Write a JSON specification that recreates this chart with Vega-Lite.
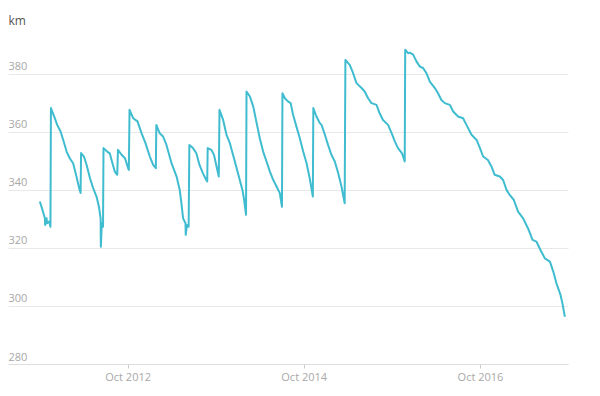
{
  "$schema": "https://vega.github.io/schema/vega-lite/v6.json",
  "autosize": "none",
  "width": 560,
  "height": 325,
  "padding": {"left": 8, "top": 39, "right": 32, "bottom": 32},
  "background": "white",
  "config": {
    "view": {"stroke": null},
    "font": "Open Sans"
  },
  "data": {"values": [
    {"date": "2011-10-03", "km": 336.0},
    {"date": "2011-10-14", "km": 333.1},
    {"date": "2011-10-24", "km": 330.2},
    {"date": "2011-10-25", "km": 327.9},
    {"date": "2011-10-31", "km": 330.2},
    {"date": "2011-11-02", "km": 328.5},
    {"date": "2011-11-11", "km": 329.1},
    {"date": "2011-11-16", "km": 327.3},
    {"date": "2011-11-18", "km": 368.2},
    {"date": "2011-12-04", "km": 364.7},
    {"date": "2011-12-14", "km": 362.4},
    {"date": "2011-12-28", "km": 360.1},
    {"date": "2012-01-08", "km": 357.2},
    {"date": "2012-01-22", "km": 353.2},
    {"date": "2012-02-04", "km": 350.9},
    {"date": "2012-02-18", "km": 349.2},
    {"date": "2012-03-03", "km": 344.6},
    {"date": "2012-03-14", "km": 340.6},
    {"date": "2012-03-20", "km": 338.9},
    {"date": "2012-03-22", "km": 352.7},
    {"date": "2012-04-03", "km": 351.5},
    {"date": "2012-04-14", "km": 348.6},
    {"date": "2012-04-28", "km": 344.0},
    {"date": "2012-05-11", "km": 340.6},
    {"date": "2012-05-25", "km": 337.7},
    {"date": "2012-06-04", "km": 334.2},
    {"date": "2012-06-11", "km": 330.2},
    {"date": "2012-06-12", "km": 320.4},
    {"date": "2012-06-16", "km": 328.5},
    {"date": "2012-06-21", "km": 327.3},
    {"date": "2012-06-23", "km": 354.4},
    {"date": "2012-07-08", "km": 353.2},
    {"date": "2012-07-19", "km": 352.6},
    {"date": "2012-07-30", "km": 349.2},
    {"date": "2012-08-09", "km": 346.3},
    {"date": "2012-08-19", "km": 345.2},
    {"date": "2012-08-22", "km": 353.8},
    {"date": "2012-09-06", "km": 352.1},
    {"date": "2012-09-20", "km": 350.9},
    {"date": "2012-10-03", "km": 347.5},
    {"date": "2012-10-06", "km": 346.9},
    {"date": "2012-10-09", "km": 367.6},
    {"date": "2012-10-24", "km": 364.7},
    {"date": "2012-11-11", "km": 363.6},
    {"date": "2012-11-28", "km": 359.5},
    {"date": "2012-12-14", "km": 356.1},
    {"date": "2013-01-01", "km": 351.5},
    {"date": "2013-01-15", "km": 348.6},
    {"date": "2013-01-26", "km": 347.5},
    {"date": "2013-01-28", "km": 362.4},
    {"date": "2013-02-11", "km": 359.5},
    {"date": "2013-02-25", "km": 358.4},
    {"date": "2013-03-11", "km": 355.5},
    {"date": "2013-04-01", "km": 349.2},
    {"date": "2013-04-22", "km": 344.6},
    {"date": "2013-05-05", "km": 340.0},
    {"date": "2013-05-12", "km": 335.4},
    {"date": "2013-05-19", "km": 330.2},
    {"date": "2013-05-29", "km": 328.5},
    {"date": "2013-05-30", "km": 324.5},
    {"date": "2013-06-04", "km": 327.9},
    {"date": "2013-06-11", "km": 327.3},
    {"date": "2013-06-14", "km": 355.5},
    {"date": "2013-06-29", "km": 354.4},
    {"date": "2013-07-13", "km": 352.6},
    {"date": "2013-07-26", "km": 348.6},
    {"date": "2013-08-09", "km": 345.8},
    {"date": "2013-08-23", "km": 343.4},
    {"date": "2013-08-27", "km": 342.9},
    {"date": "2013-08-29", "km": 354.4},
    {"date": "2013-09-13", "km": 353.8},
    {"date": "2013-09-24", "km": 352.1},
    {"date": "2013-10-05", "km": 348.0},
    {"date": "2013-10-14", "km": 344.6},
    {"date": "2013-10-17", "km": 367.6},
    {"date": "2013-11-01", "km": 364.1},
    {"date": "2013-11-15", "km": 359.0},
    {"date": "2013-11-29", "km": 356.1},
    {"date": "2013-12-12", "km": 352.1},
    {"date": "2013-12-27", "km": 347.5},
    {"date": "2014-01-09", "km": 343.4},
    {"date": "2014-01-20", "km": 340.0},
    {"date": "2014-01-27", "km": 336.6},
    {"date": "2014-02-04", "km": 331.4},
    {"date": "2014-02-06", "km": 373.9},
    {"date": "2014-02-20", "km": 372.2},
    {"date": "2014-03-06", "km": 368.7},
    {"date": "2014-03-20", "km": 363.0},
    {"date": "2014-04-02", "km": 357.8},
    {"date": "2014-04-16", "km": 353.2},
    {"date": "2014-04-30", "km": 349.8},
    {"date": "2014-05-14", "km": 346.3},
    {"date": "2014-05-28", "km": 343.4},
    {"date": "2014-06-11", "km": 341.1},
    {"date": "2014-06-24", "km": 338.9},
    {"date": "2014-07-03", "km": 334.2},
    {"date": "2014-07-05", "km": 373.3},
    {"date": "2014-07-15", "km": 371.6},
    {"date": "2014-07-29", "km": 370.4},
    {"date": "2014-08-08", "km": 369.9},
    {"date": "2014-08-18", "km": 365.9},
    {"date": "2014-09-01", "km": 361.8},
    {"date": "2014-09-15", "km": 357.8},
    {"date": "2014-09-29", "km": 353.2},
    {"date": "2014-10-13", "km": 349.2},
    {"date": "2014-10-26", "km": 344.0},
    {"date": "2014-11-08", "km": 337.7},
    {"date": "2014-11-10", "km": 368.2},
    {"date": "2014-11-23", "km": 365.3},
    {"date": "2014-12-07", "km": 363.0},
    {"date": "2014-12-14", "km": 362.4},
    {"date": "2014-12-28", "km": 359.0},
    {"date": "2015-01-10", "km": 355.5},
    {"date": "2015-01-24", "km": 352.1},
    {"date": "2015-02-07", "km": 349.8},
    {"date": "2015-02-21", "km": 345.8},
    {"date": "2015-03-07", "km": 341.1},
    {"date": "2015-03-20", "km": 335.4},
    {"date": "2015-03-23", "km": 384.8},
    {"date": "2015-04-10", "km": 383.1},
    {"date": "2015-04-24", "km": 380.2},
    {"date": "2015-05-08", "km": 376.8},
    {"date": "2015-05-29", "km": 375.1},
    {"date": "2015-06-11", "km": 373.9},
    {"date": "2015-06-25", "km": 371.6},
    {"date": "2015-07-09", "km": 369.9},
    {"date": "2015-07-30", "km": 369.3},
    {"date": "2015-08-12", "km": 366.4},
    {"date": "2015-08-26", "km": 364.1},
    {"date": "2015-09-16", "km": 362.4},
    {"date": "2015-10-01", "km": 359.5},
    {"date": "2015-10-14", "km": 356.7},
    {"date": "2015-10-27", "km": 354.4},
    {"date": "2015-11-13", "km": 352.6},
    {"date": "2015-11-24", "km": 349.8},
    {"date": "2015-11-26", "km": 388.3},
    {"date": "2015-12-08", "km": 387.1},
    {"date": "2015-12-15", "km": 387.3},
    {"date": "2015-12-29", "km": 386.6},
    {"date": "2016-01-12", "km": 384.2},
    {"date": "2016-01-26", "km": 382.5},
    {"date": "2016-02-08", "km": 382.0},
    {"date": "2016-02-22", "km": 380.2},
    {"date": "2016-03-07", "km": 377.3},
    {"date": "2016-03-28", "km": 375.1},
    {"date": "2016-04-10", "km": 373.3},
    {"date": "2016-04-24", "km": 371.0},
    {"date": "2016-05-08", "km": 369.9},
    {"date": "2016-05-29", "km": 369.3},
    {"date": "2016-06-12", "km": 367.0},
    {"date": "2016-07-02", "km": 365.3},
    {"date": "2016-07-23", "km": 364.7},
    {"date": "2016-08-06", "km": 362.4},
    {"date": "2016-08-27", "km": 359.0},
    {"date": "2016-09-17", "km": 357.2},
    {"date": "2016-10-01", "km": 354.4},
    {"date": "2016-10-14", "km": 351.5},
    {"date": "2016-11-03", "km": 350.3},
    {"date": "2016-11-18", "km": 348.0},
    {"date": "2016-12-01", "km": 345.2},
    {"date": "2016-12-22", "km": 344.6},
    {"date": "2017-01-05", "km": 343.4},
    {"date": "2017-01-19", "km": 340.0},
    {"date": "2017-02-01", "km": 338.3},
    {"date": "2017-02-18", "km": 336.6},
    {"date": "2017-03-08", "km": 332.5},
    {"date": "2017-03-29", "km": 330.2},
    {"date": "2017-04-18", "km": 326.8},
    {"date": "2017-05-07", "km": 322.8},
    {"date": "2017-05-23", "km": 322.2},
    {"date": "2017-06-09", "km": 319.3},
    {"date": "2017-06-27", "km": 316.4},
    {"date": "2017-07-18", "km": 315.3},
    {"date": "2017-08-03", "km": 311.3},
    {"date": "2017-08-14", "km": 307.8},
    {"date": "2017-08-31", "km": 303.8},
    {"date": "2017-09-08", "km": 300.9},
    {"date": "2017-09-18", "km": 296.3}
  ]},
  "mark": {"type": "line", "color": "#3fbccf", "strokeWidth": 2, "strokeJoin": "round"},
  "encoding": {
    "x": {
      "field": "date",
      "type": "temporal",
      "scale": {
        "type": "utc",
        "domain": [
          {"year": 2011, "month": 5, "date": 24, "utc": true},
          {"year": 2017, "month": 10, "date": 1, "utc": true}
        ]
      },
      "axis": {
        "title": null,
        "values": [
          {"year": 2012, "month": 10, "date": 1, "utc": true},
          {"year": 2014, "month": 10, "date": 1, "utc": true},
          {"year": 2016, "month": 10, "date": 1, "utc": true}
        ],
        "format": "%b %Y",
        "grid": false,
        "domainColor": "#dddddd",
        "tickColor": "#cccccc",
        "tickSize": 4,
        "labelPadding": 3,
        "labelColor": "#a8a8a8",
        "labelFontSize": 11,
        "labelFont": "Open Sans"
      }
    },
    "y": {
      "field": "km",
      "type": "quantitative",
      "scale": {"domain": [280, 392], "nice": false, "zero": false},
      "axis": {
        "values": [280, 300, 320, 340, 360, 380],
        "title": "km",
        "titleAngle": 0,
        "titleAlign": "left",
        "titleBaseline": "middle",
        "titleX": 0,
        "titleY": -19,
        "titleColor": "#555555",
        "titleFontSize": 12,
        "titleFontWeight": "normal",
        "titleFont": "Open Sans",
        "domain": false,
        "ticks": false,
        "tickSize": 0,
        "labelPadding": 0,
        "labelAlign": "left",
        "labelBaseline": "alphabetic",
        "labelOffset": -4,
        "labelFlush": false,
        "labelColor": "#a8a8a8",
        "labelFontSize": 11,
        "labelFont": "Open Sans",
        "gridColor": "#e8e8e8",
        "gridWidth": 1
      }
    }
  }
}
